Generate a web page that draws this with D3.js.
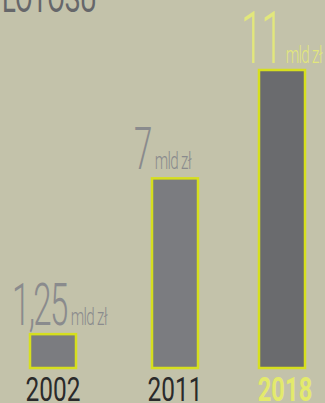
<!DOCTYPE html>
<html><head><meta charset="utf-8">
<script src="https://cdn.jsdelivr.net/npm/d3@7"></script>
<style>html,body{margin:0;padding:0;background:#c3c2aa;}svg{display:block;}</style>
</head><body>
<svg id="c" width="325" height="403"></svg>
<script>
const years = ["2002", "2011", "2018"];
const values = [1.25, 7, 11];
const valueLabels = ["1,25", "7", "11"];
const unitLabel = "mld zł";
const title = "LOTOSU";

const svg = d3.select("#c");
const W = 325, H = 403;
svg.append("rect").attr("width", W).attr("height", H).attr("fill", "#c3c2aa");

const x = d3.scaleOrdinal().domain(years).range([53, 175, 282]);
const barW = 46;
const y = d3.scaleLinear().domain([0, 11]).range([368, 70]);

const fills = ["#7b7c80", "#7b7c80", "#6a6b6e"];
const labelCol = ["#8a8b8d", "#8a8b8d", "#e2e77c"];
const yearCol = ["#2a2a2a", "#2a2a2a", "#e3ea6c"];
const numSize = [60, 60, 72];
const numScale = 0.55;

// title (cut off at top)
svg.append("text").text(title)
  .attr("transform", "translate(2,12) scale(0.64,1)")
  .attr("font-family", "Roboto, sans-serif").attr("font-weight", 400)
  .attr("font-size", 40).attr("fill", "#66676a");

const g = svg.selectAll("g.bar").data(years).join("g").attr("class", "bar");

g.append("rect")
  .attr("x", d => x(d) - barW / 2)
  .attr("y", (d, i) => y(values[i]))
  .attr("width", barW)
  .attr("height", (d, i) => y(0) - y(values[i]))
  .attr("fill", (d, i) => fills[i])
  .attr("stroke", "#d6df1e").attr("stroke-width", 2.5);

g.append("text").text(d => d)
  .attr("transform", (d, i) => `translate(${x(d) + (i === 2 ? 3 : 0)},401) scale(${i === 2 ? 0.72 : 0.74},1)`)
  .attr("text-anchor", "middle")
  .attr("font-family", "Roboto, sans-serif")
  .attr("font-size", 33)
  .attr("font-weight", (d, i) => i === 2 ? 700 : 400)
  .attr("fill", (d, i) => yearCol[i]);

g.each(function (d, i) {
  const gg = d3.select(this);
  const x0 = x(d) - barW / 2 - 18;
  const yb = y(values[i]) - (i === 2 ? 7 : 9);
  const num = gg.append("text").text(valueLabels[i])
    .attr("transform", `translate(${x0},${yb}) scale(${numScale},1)`)
    .attr("font-family", "Roboto, sans-serif")
    .attr("font-size", numSize[i]).attr("font-weight", 300)
    .attr("letter-spacing", -3)
    .attr("fill", labelCol[i]);
  const w = num.node().getComputedTextLength() * numScale;
  gg.append("text").text(unitLabel)
    .attr("transform", `translate(${x0 + w + 4},${yb}) scale(0.66,1)`)
    .attr("font-family", "Roboto, sans-serif")
    .attr("font-size", 23).attr("font-weight", 300).attr("letter-spacing", -1)
    .attr("fill", labelCol[i]);
});
</script>
</body></html>
